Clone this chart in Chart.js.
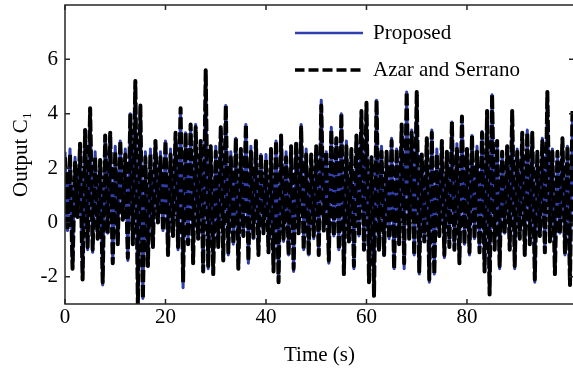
<!DOCTYPE html>
<html>
<head>
<meta charset="utf-8">
<script src="https://cdn.jsdelivr.net/npm/chart.js@4/dist/chart.umd.min.js"></script>
<style>
  html, body { margin: 0; padding: 0; background: #fff; overflow: hidden; }
  #wrap { width: 580px; height: 370px; }
</style>
</head>
<body>
<div id="wrap"><canvas id="grafico" width="580" height="370"></canvas></div>
<script>
// dados (amostragem de 0.5 s)
const dt = 0.5;
const proposed = [
  2.6, -0.3, 2.7, -1.7, 2.4, 0.2, 2.9, -2.1, 3.4, -1.0,
  4.2, -1.1, 2.6, -0.6, 2.3, -2.3, 3.2, -0.4, 3.3, -1.5,
  2.8, -0.8, 3.0, 0.1, 2.7, -1.4, 4.0, -0.8, 5.2, -3.1,
  4.3, -2.8, 2.6, -1.6, 2.7, -0.9, 3.0, 0.0, 2.6, -0.3,
  3.0, -1.2, 2.7, -0.5, 3.3, -1.0, 4.2, -2.4, 3.3, -0.8,
  3.6, -1.5, 3.6, -0.6, 3.0, -1.8, 5.6, -1.7, 2.8, -1.9,
  2.8, -0.9, 3.5, -1.4, 4.3, -1.2, 2.6, -0.8, 3.1, -1.7,
  2.7, -0.5, 3.6, -1.5, 2.8, -0.6, 3.0, -1.2, 2.5, -0.4,
  2.5, -1.1, 2.7, -1.8, 3.0, -2.2, 3.2, -0.7, 2.6, -1.2,
  2.8, -1.8, 2.9, -0.4, 3.6, -1.0, 2.7, -1.2, 2.5, -0.6,
  2.8, -1.2, 4.5, -0.3, 2.6, -1.5, 3.5, -0.5, 3.1, -1.0,
  4.0, -1.9, 3.0, -0.7, 2.7, -1.7, 3.2, -0.5, 4.1, -1.0,
  4.4, -2.2, 2.4, -2.7, 4.5, -1.0, 2.8, -1.2, 2.6, -0.6,
  3.1, -1.7, 2.7, -0.8, 3.6, -1.7, 4.8, -0.6, 3.4, -1.2,
  4.8, -1.9, 2.5, -0.7, 3.1, -2.2, 3.4, -1.9, 2.7, -0.5,
  3.0, -1.3, 2.6, -0.9, 3.7, -1.0, 2.9, -1.5, 3.9, -0.8,
  2.7, -1.2, 3.2, -0.6, 2.8, -1.1, 3.35, -1.8, 4.1, -2.65,
  4.7, -1.0, 3.0, -1.7, 2.6, -0.4, 2.8, -1.0, 4.1, -1.7,
  2.7, -0.6, 3.3, -1.2, 3.4, -0.8, 3.3, -2.2, 2.6, -0.5,
  3.1, -1.1, 4.8, -0.7, 2.7, -1.9, 2.6, -0.4, 3.1, -1.2,
  2.8, -2.3, 4.1
];
const azarSerrano = [
  2.4, -0.3, 2.5, -1.7, 2.2, 0.2, 2.9, -2.1, 3.4, -0.9,
  4.2, -1.0, 2.4, -0.6, 2.3, -2.2, 3.2, -0.4, 3.3, -1.5,
  2.6, -0.8, 3.0, 0.1, 2.5, -1.3, 4.0, -0.8, 5.2, -3.1,
  4.3, -2.8, 2.4, -1.6, 2.5, -0.9, 3.0, 0.0, 2.4, -0.3,
  3.0, -1.2, 2.5, -0.5, 3.3, -0.9, 4.2, -2.2, 3.3, -0.8,
  3.6, -1.5, 3.5, -0.6, 3.0, -1.8, 5.6, -1.6, 2.8, -1.9,
  2.6, -0.9, 3.5, -1.4, 4.3, -1.1, 2.4, -0.8, 3.1, -1.7,
  2.7, -0.5, 3.6, -1.4, 2.6, -0.6, 3.0, -1.2, 2.5, -0.4,
  2.3, -1.1, 2.7, -1.8, 3.0, -2.2, 3.2, -0.6, 2.4, -1.2,
  2.8, -1.7, 2.9, -0.4, 3.5, -1.0, 2.5, -1.2, 2.5, -0.5,
  2.8, -1.2, 4.3, -0.3, 2.6, -1.4, 3.4, -0.5, 3.1, -1.0,
  4.0, -1.9, 2.8, -0.7, 2.7, -1.6, 3.2, -0.5, 4.1, -1.0,
  4.4, -2.2, 2.4, -2.7, 4.5, -1.0, 2.6, -1.2, 2.6, -0.6,
  3.0, -1.7, 2.7, -0.8, 3.6, -1.5, 4.8, -0.6, 3.3, -1.2,
  4.8, -1.8, 2.5, -0.7, 3.1, -2.1, 3.3, -1.9, 2.5, -0.5,
  3.0, -1.2, 2.6, -0.9, 3.7, -1.0, 2.7, -1.5, 3.9, -0.8,
  2.7, -1.1, 3.2, -0.6, 2.6, -1.1, 3.3, -1.8, 4.1, -2.65,
  4.7, -1.0, 3.0, -1.6, 2.6, -0.4, 2.8, -1.0, 4.1, -1.6,
  2.6, -0.6, 3.3, -1.2, 3.3, -0.8, 3.3, -2.1, 2.6, -0.5,
  3.0, -1.1, 4.8, -0.7, 2.6, -1.9, 2.6, -0.4, 3.1, -1.1,
  2.8, -2.3, 4.1
];
const xTicks = [0, 20, 40, 60, 80];
const yTicks = [-2, 0, 2, 4, 6];

const time = proposed.map((_, i) => i * dt);
const fonte = { family: "'Liberation Serif', 'Times New Roman', serif", size: 21 };

// amostra de linha para a legenda (o chart.js nao tracejа o pointStyle 'line')
function amostra(cor, largura, traco) {
  const c = document.createElement('canvas');
  c.width = 68; c.height = 6;
  const g = c.getContext('2d');
  g.strokeStyle = cor;
  g.lineWidth = largura;
  g.setLineDash(traco);
  g.beginPath();
  g.moveTo(0, 3); g.lineTo(68, 3);
  g.stroke();
  return c;
}

// moldura e marcas para dentro (estilo matlab)
const moldura = {
  id: 'moldura',
  beforeDraw(chart) {
    // legenda dentro do grafico, canto superior direito
    if (chart.legend) {
      chart.legend.left = 278.5;
      chart.legend.top = 6.5;
    }
  },
  afterDraw(chart) {
    const ctx = chart.ctx;
    const a = chart.chartArea;
    const x = chart.scales.x;
    const y = chart.scales.y;
    ctx.save();
    ctx.strokeStyle = '#262626';
    ctx.lineWidth = 1.5;
    ctx.strokeRect(a.left, a.top, a.right - a.left, a.bottom - a.top);
    ctx.beginPath();
    xTicks.forEach(v => {
      const px = x.getPixelForValue(v);
      ctx.moveTo(px, a.bottom); ctx.lineTo(px, a.bottom - 5);
      ctx.moveTo(px, a.top); ctx.lineTo(px, a.top + 5);
    });
    yTicks.forEach(v => {
      const py = y.getPixelForValue(v);
      ctx.moveTo(a.left, py); ctx.lineTo(a.left + 5, py);
      ctx.moveTo(a.right, py); ctx.lineTo(a.right - 5, py);
    });
    ctx.stroke();
    ctx.restore();
  }
};

new Chart(document.getElementById('grafico'), {
  type: 'line',
  data: {
    datasets: [
      {
        label: 'Proposed',
        data: time.map((t, i) => ({ x: t, y: proposed[i] })),
        borderColor: '#2f3fae',
        borderWidth: 3,
        borderJoinStyle: 'round',
        pointRadius: 0,
        pointStyle: amostra('#2f3fae', 2.5, []),
        order: 2
      },
      {
        label: 'Azar and Serrano',
        data: time.map((t, i) => ({ x: t, y: azarSerrano[i] })),
        borderColor: '#000000',
        borderWidth: 4,
        borderDash: [12, 3],
        borderJoinStyle: 'round',
        pointRadius: 0,
        pointStyle: amostra('#000000', 3.5, [10, 4]),
        order: 1
      }
    ]
  },
  options: {
    responsive: false,
    animation: false,
    layout: { padding: { top: 5, right: 6, left: 0, bottom: 0 } },
    plugins: {
      legend: {
        position: 'chartArea',
        align: 'start',
        labels: {
          usePointStyle: true,
          pointStyleWidth: 68,
          padding: 16,
          color: '#000',
          font: fonte,
          sort: (a, b) => a.datasetIndex - b.datasetIndex
        }
      },
      tooltip: { enabled: false }
    },
    scales: {
      x: {
        type: 'linear',
        min: 0,
        max: 101.3,
        afterBuildTicks: s => { s.ticks = xTicks.map(v => ({ value: v })); },
        afterFit: s => { s.height = 66; s.paddingLeft = 0; s.paddingRight = 0; },
        grid: { display: false, drawTicks: false },
        border: { display: false },
        ticks: { color: '#000', font: fonte, padding: 1, maxRotation: 0 },
        title: { display: true, text: 'Time (s)', color: '#000', font: fonte, padding: { top: 0, bottom: 2 } }
      },
      y: {
        min: -3,
        max: 8,
        afterBuildTicks: s => { s.ticks = yTicks.map(v => ({ value: v })); },
        afterFit: s => { s.width = 65; s.paddingTop = 0; s.paddingBottom = 0; },
        grid: { display: false, drawTicks: false },
        border: { display: false },
        ticks: { color: '#000', font: fonte, padding: 7 },
        title: { display: true, text: 'Output C\u2081', color: '#000', font: fonte, padding: { top: 9, bottom: 0 } }
      }
    }
  },
  plugins: [moldura]
});
</script>
</body>
</html>
